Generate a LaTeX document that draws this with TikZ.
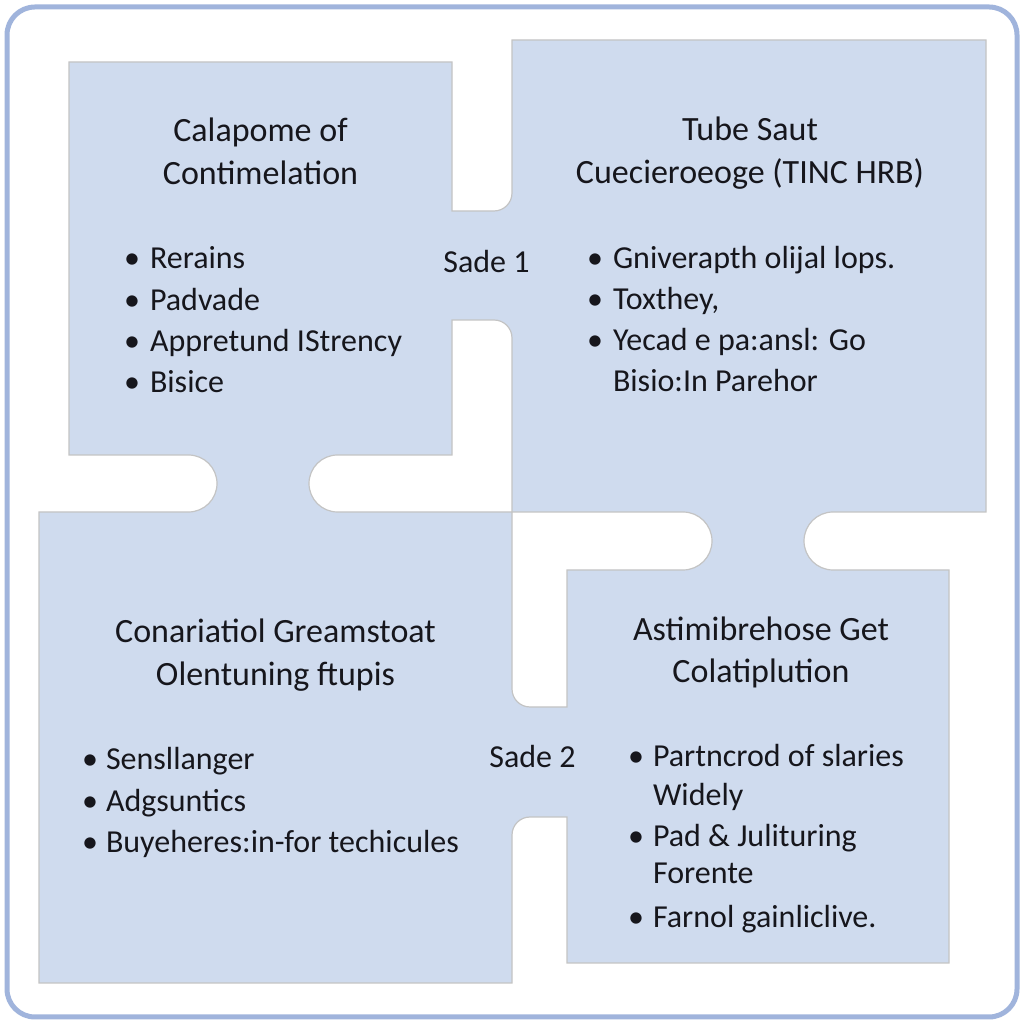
\documentclass[tikz,border=0pt]{standalone}
\usepackage{fontspec}
\setmainfont{Carlito}
\definecolor{panel}{RGB}{207,219,238}
\definecolor{edgegray}{RGB}{196,196,196}
\definecolor{framecol}{RGB}{160,180,220}
\definecolor{ink}{RGB}{22,22,28}
\begin{document}
\begin{tikzpicture}[x=1pt,y=1pt,
  txt/.style={inner sep=0pt, outer sep=0pt, text=ink, font=\fontsize{32}{38}\selectfont},
  head/.style={txt, anchor=base, font=\fontsize{34}{40}\selectfont},
  lbl/.style={txt, anchor=base},
  item/.style={txt, anchor=base west},
  dot/.style={txt, anchor=base},
  puzzle/.style={fill=panel, draw=edgegray, line width=1.2pt, even odd rule}]
\useasboundingbox (0,0) rectangle (1024,1024);
\fill[white] (0,0) rectangle (1024,1024);
\draw[framecol, line width=5pt, rounded corners=28pt] (7,7) rectangle (1017,1017);

% puzzle surface: outer outline + two enclosed holes
\path[puzzle]
  (69,962) -- (452,962) -- (452,813) -- (494,813)
    arc[start angle=270, end angle=360, radius=18]
  -- (512,984) -- (986,984) -- (986,512) -- (833,512)
    arc[start angle=90, end angle=270, radius=29]
  -- (949,454) -- (949,61) -- (567,61) -- (567,207) -- (530,207)
    arc[start angle=90, end angle=180, radius=18]
  -- (512,41) -- (39,41) -- (39,512) -- (188.5,512)
    arc[start angle=-90, end angle=90, radius=28.5]
  -- (69,569) -- cycle
  (337.5,569) -- (452,569) -- (452,704) -- (494,704)
    arc[start angle=90, end angle=0, radius=18]
  -- (512,512) -- (337.5,512)
    arc[start angle=270, end angle=90, radius=28.5]
  -- cycle
  (512,512) -- (683,512)
    arc[start angle=90, end angle=-90, radius=29]
  -- (567,454) -- (567,317) -- (530,317)
    arc[start angle=270, end angle=180, radius=18]
  -- cycle;

% panel A
\node[head] (a1) at (260.5,882) {Calapome of};
\node[head] (a2) at (260.5,839) {Contimelation};
\node[dot] (ad1) at (132,755) {•};
\node[item] (ai1) at (150,755) {Rerains};
\node[dot] (ad2) at (132,713) {•};
\node[item] (ai2) at (150,713) {Padvade};
\node[dot] (ad3) at (132,672) {•};
\node[item] (ai3) at (150,672) {Appretund IStrency};
\node[dot] (ad4) at (132,631) {•};
\node[item] (ai4) at (150,631) {Bisice};

% connector label 1
\node[lbl] (s1) at (486.5,751) {Sade 1};

% panel B
\node[head] (b1) at (750,883) {Tube Saut};
\node[head] (b2) at (750,840) {Cuecieroeoge (TINC HRB)};
\node[dot] (bd1) at (595,755) {•};
\node[item] (bi1) at (613,755) {Gniverapth olijal lops.};
\node[dot] (bd2) at (595,714) {•};
\node[item] (bi2) at (613,714) {Toxthey,};
\node[dot] (bd3) at (595,673) {•};
\node[item] (bi3) at (613,673) {Yecad e pa:ansl: Go};
\node[item] (bi4) at (613,632) {Bisio:In Parehor};

% panel C
\node[head] (c1) at (275.5,381) {Conariatiol Greamstoat};
\node[head] (c2) at (275.5,338) {Olentuning ftupis};
\node[dot] (cd1) at (90,254) {•};
\node[item] (ci1) at (106,254) {Sensllanger};
\node[dot] (cd2) at (90,212) {•};
\node[item] (ci2) at (106,212) {Adgsuntics};
\node[dot] (cd3) at (90,171) {•};
\node[item] (ci3) at (106,171) {Buyeheres:in-for techicules};

% connector label 2
\node[lbl] (s2) at (532.5,256) {Sade 2};

% panel D
\node[head] (d1) at (761,383) {Astimibrehose Get};
\node[head] (d2) at (761,341) {Colatiplution};
\node[dot] (dd1) at (636,257) {•};
\node[item] (di1) at (653,257) {Partncrod of slaries};
\node[item] (di2) at (653,218) {Widely};
\node[dot] (dd3) at (636,177) {•};
\node[item] (di3) at (653,177) {Pad \& Julituring};
\node[item] (di4) at (653,140) {Forente};
\node[dot] (dd5) at (636,96) {•};
\node[item] (di5) at (653,96) {Farnol gainliclive.};
\end{tikzpicture}
\end{document}
